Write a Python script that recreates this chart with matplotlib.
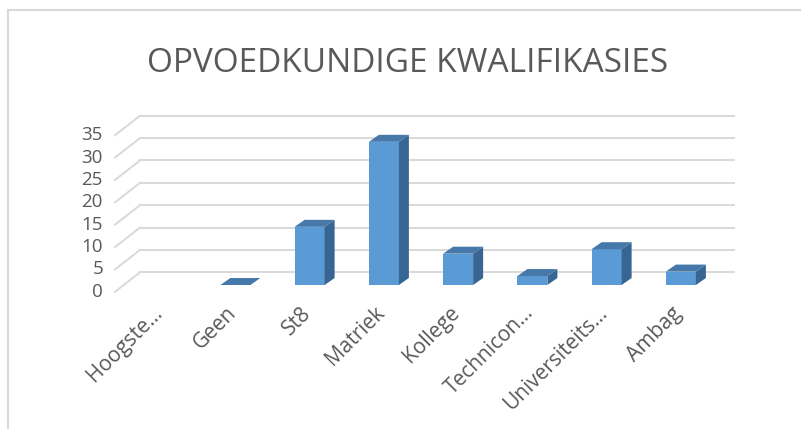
import numpy as np
import matplotlib
matplotlib.use('Agg')
import matplotlib.pyplot as plt
from matplotlib.patches import Polygon
from matplotlib.lines import Line2D

# Data
categories = ['Hoogste...', 'Geen', 'St8', 'Matriek', 'Kollege',
              'Technicon...', 'Universiteits...', 'Ambag']
values = [np.nan, 0, 13, 32, 7, 2, 8, 3]
yticks = [0, 5, 10, 15, 20, 25, 30, 35]
title = 'OPVOEDKUNDIGE KWALIFIKASIES'

plt.rcParams['font.family'] = ['Open Sans', 'DejaVu Sans']
text_col = '#595959'
grid_col = '#d9d9d9'

W, H = 801, 429
fig = plt.figure(figsize=(W / 100, H / 100), dpi=100)

# back wall in pixels
x0, x1 = 140, 734
yb0, yb35 = 272.3, 115.7
ax = fig.add_axes([x0 / W, (H - yb0) / H, (x1 - x0) / W, (yb0 - yb35) / H])
ax.set_xlim(-0.5, len(categories) - 0.5)
ax.set_ylim(0, 35)
for s in ax.spines.values():
    s.set_visible(False)
ax.set_xticks([])
ax.set_yticks([])
ax.patch.set_alpha(0)

sx = (x1 - x0) / len(categories)   # px per category
sy = (yb0 - yb35) / 35             # px per unit

# 3d offsets (pixels -> data)
fdx, fdy = -16 / sx, -12.7 / sy     # front face of bars
ddx, ddy = 10 / sx, 7 / sy          # bar depth
wdx, wdy = -25 / sx, -19.5 / sy     # side wall depth
bw = 30 / sx

# gridlines on back wall + side wall
for t in yticks:
    ax.plot([-0.5, len(categories) - 0.5], [t, t], color=grid_col, lw=1.4,
            zorder=1, clip_on=False)
    ax.plot([-0.5, -0.5 + wdx], [t, t + wdy], color=grid_col, lw=1.4,
            zorder=1, clip_on=False)
    ax.text(-0.5 + wdx - 12 / sx, t + wdy, str(t), ha='right', va='center',
            fontsize=13.5, color=text_col)

# bars
xs = np.arange(len(categories))
for i, v in zip(xs, values):
    if np.isnan(v):
        continue
    xl = i - bw / 2 + fdx
    xr = xl + bw
    yb = fdy
    yt = fdy + v
    if v > 0:
        ax.bar(i + fdx, v, bw, bottom=fdy, color='#5B9BD5', zorder=3,
               clip_on=False)
        ax.add_patch(Polygon([(xr, yb), (xr + ddx, yb + ddy),
                              (xr + ddx, yt + ddy), (xr, yt)],
                             closed=True, fc='#386591', ec='none',
                             zorder=3, clip_on=False))
    ax.add_patch(Polygon([(xl, yt), (xr, yt), (xr + ddx, yt + ddy),
                          (xl + ddx, yt + ddy)], closed=True,
                         fc='#4679A9', ec='none', zorder=3, clip_on=False))

# category labels
for i, lab in zip(xs, categories):
    ax.text(i + fdx - 2 / sx, fdy - 25 / sy, lab, rotation=45,
            rotation_mode='anchor', ha='right', va='center',
            fontsize=15, color=text_col)

fig.text(408 / W, (H - 72) / H, title, ha='center', va='baseline',
         fontsize=24, color=text_col)

# outer frame
fig.add_artist(Line2D([7.5 / W, 7.5 / W], [0, (H - 10) / H], color=grid_col,
                      lw=1.5, transform=fig.transFigure))
fig.add_artist(Line2D([7.5 / W, 1], [(H - 10) / H, (H - 10) / H],
                      color=grid_col, lw=1.5, transform=fig.transFigure))

fig.savefig('out.png', dpi=100)
